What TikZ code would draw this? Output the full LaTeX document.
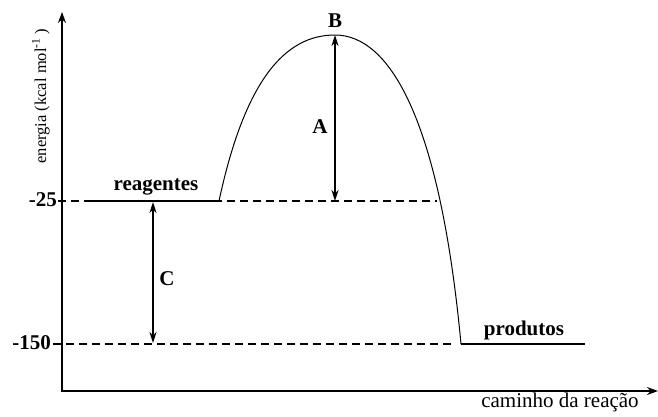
\documentclass[tikz,border=0pt]{standalone}
\usepackage{fontspec}
\setmainfont{Liberation Serif}
\usetikzlibrary{arrows.meta}
\begin{document}
\begin{tikzpicture}[x=1pt,y=-1pt,
  axisline/.style={line width=2pt,-{Stealth[length=11pt,width=8pt]}},
  dashlevel/.style={line width=1.5pt,dash pattern=on 8pt off 5pt},
  level/.style={line width=2pt},
  curveline/.style={line width=1pt},
  dimarrow/.style={line width=2pt,{Stealth[length=11pt,width=7pt]}-{Stealth[length=11pt,width=7pt]}},
  lbl/.style={inner sep=0pt,font=\fontsize{21}{24}\selectfont\bfseries},
  axlbl/.style={inner sep=0pt,font=\fontsize{21}{24}\selectfont}]
\useasboundingbox (0,0) rectangle (658,416);
% axes
\coordinate (O) at (62,391);
\coordinate (Ytop) at (62,12);
\coordinate (Xend) at (658,391);
\draw[axisline] (O) -- (Ytop);
\draw[axisline] ([xshift=-1pt]O) -- (Xend);
% level coordinates
\coordinate (r0) at (58,201);
\coordinate (r1) at (92,201);
\coordinate (r2) at (219,201);
\coordinate (r3) at (437,201);
\coordinate (p0) at (53,344);
\coordinate (p1) at (455,344);
\coordinate (p2) at (461,344);
\coordinate (p3) at (585,344);
\coordinate (top) at (335,35);
\draw[dashlevel] (r0) -- (r3);
\draw[level] (r1) -- (r2);
\draw[dashlevel] (p0) -- (p1);
\draw[level] (p2) -- (p3);
% curve
\draw[curveline] (r2) .. controls (245,80) and (285,35) .. (top)
  .. controls (390,35) and (440,120) .. (p2);
% dimension arrows
\coordinate (Abot) at (335,201);
\draw[dimarrow] (Abot) -- (top);
\coordinate (Ctop) at (153,202);
\coordinate (Cbot) at (153,343);
\draw[dimarrow] (Ctop) -- (Cbot);
% labels
\node[lbl] (B) at (335,21) {B};
\node[lbl] (A) at (320,127) {A};
\node[lbl] (C) at (167,279) {C};
\node[lbl,anchor=base] (reag) at (156,190) {reagentes};
\node[lbl,anchor=base] (prod) at (524,335) {produtos};
\node[lbl,anchor=east] (m25) at (57,200) {-25};
\node[lbl,anchor=east] (m150) at (51,343) {-150};
\node[axlbl,anchor=base] (xl) at (560,407) {caminho da reação};
\node[inner sep=0pt,font=\fontsize{16.5}{19}\selectfont,rotate=90,anchor=base] (yl) at (46,96) {energia (kcal mol\textsuperscript{-1} )};
\end{tikzpicture}
\end{document}
